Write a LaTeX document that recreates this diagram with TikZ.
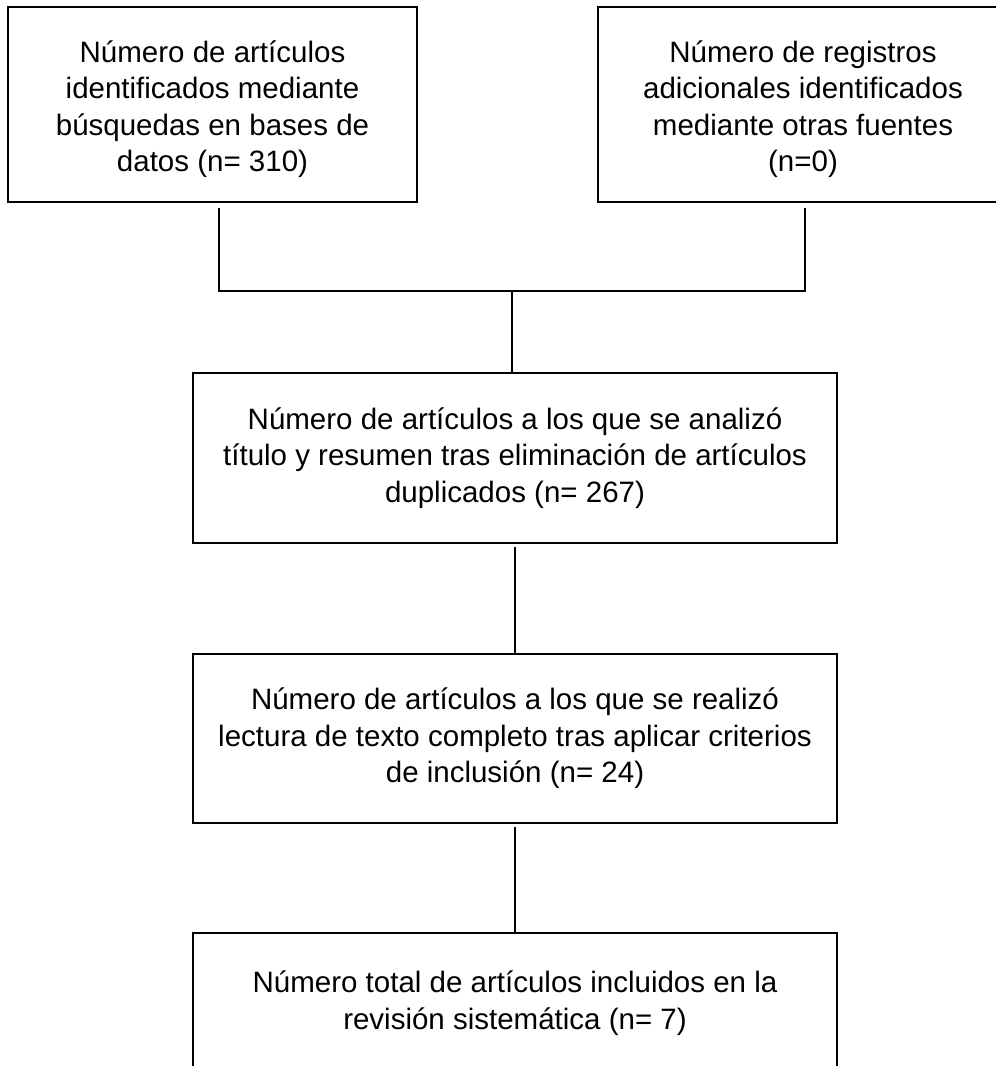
\documentclass[tikz,border=0pt]{standalone}
\usepackage{fontspec}
\setmainfont{Liberation Sans}
\newcommand{\topstrut}{\rule{0pt}{31pt}}
\begin{document}
\begin{tikzpicture}[x=1pt,y=-1pt,
  box/.style={draw=black, line width=1.5pt, align=center, inner sep=0pt,
    font=\fontsize{29.5}{36.5}\selectfont},
  conn/.style={draw=black, line width=1.5pt}]
\useasboundingbox (0,0) rectangle (996,1066);
\node[box, minimum width=409pt, minimum height=195pt] (b1) at (212.5,104.5)
  {\topstrut Número de artículos\\identificados mediante\\búsquedas en bases de\\datos (n= 310)};
\node[box, minimum width=410pt, minimum height=195pt] (b2) at (803,104.5)
  {\topstrut Número de registros\\adicionales identificados\\mediante otras fuentes\\(n=0)};
\node[box, minimum width=644pt, minimum height=170pt] (b3) at (515,458)
  {Número de artículos a los que se analizó\\título y resumen tras eliminación de artículos\\duplicados (n= 267)};
\node[box, minimum width=644pt, minimum height=169pt] (b4) at (515,738.5)
  {Número de artículos a los que se realizó\\lectura de texto completo tras aplicar criterios\\de inclusión (n= 24)};
\node[box, minimum width=644pt, minimum height=140pt] (b5) at (515,1003)
  {Número total de artículos incluidos en la\\revisión sistemática (n= 7)};
\coordinate (j) at (512,291);
\draw[conn] ([shift={(6.5,5)}]b1.south) |- (j) -| ([shift={(2,5)}]b2.south);
\draw[conn] (j) -- (b3.north -| j);
\draw[conn, shorten <=3pt] (b3.south) -- (b4.north);
\draw[conn, shorten <=3pt] (b4.south) -- (b5.north);
\end{tikzpicture}
\end{document}
